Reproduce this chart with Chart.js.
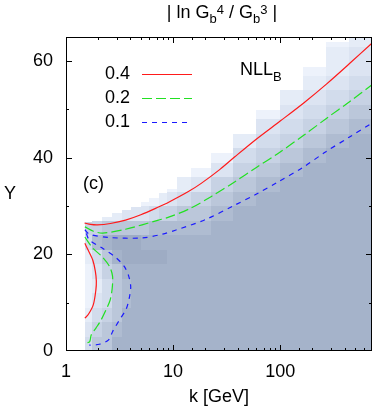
<!DOCTYPE html>
<html><head><meta charset="utf-8">
<script src="https://cdn.jsdelivr.net/npm/chart.js@4.4.0/dist/chart.umd.min.js"></script>
<style>html,body{margin:0;padding:0;background:#fff;}#wrap{width:382px;height:406px;position:relative;}</style>
</head><body><div id="wrap"><canvas id="c" width="382" height="406"></canvas></div>
<script>
// ---- data ----
const kEdges = [1.5,1.76,2.18,2.7,3.34,4.04,5.0,5.93,7.33,8.72,10.8,14.8,22.4,36.3,60,100,163,265,443,720];
const columnTops = [26.7,27.0,27.7,28.6,29.2,29.8,30.8,31.7,32.7,33.5,36,37.9,41,45,49.9,54,58.8,64,66];
const rowEdges = [0,3,6,9,12,15,18,21,24,27,30,33,36,39,42,45,48,51,54,57,60,63,66];
const shadeLevels = [
  [5,6,7,8,8,8,7,5,4],
  [3,4,5,6,7,6,5,2,4],
  [3,3,4,5,5,4,3,1,3,7],
  [1,2,3,3,3,3,1,0,3,7],
  [1,1,1,2,2,1,0,0,3,6],
  [1,1,1,1,1,1,0,0,3,6],
  [1,1,1,1,1,1,0,1,3,6,8],
  [1,1,1,1,1,1,0,1,2,5,8],
  [1,1,1,1,1,1,0,1,2,4,7],
  [1,1,1,1,1,1,1,1,2,4,6,8],
  [1,1,1,1,1,1,1,1,2,3,5,7],
  [1,1,1,1,1,1,1,1,2,3,4,6,8],
  [1,1,1,1,1,1,1,1,1,2,3,4,6,8],
  [1,1,1,1,1,1,1,1,1,1,2,3,4,5,7],
  [1,1,1,1,1,1,1,1,1,1,1,2,3,4,5,6,8],
  [1,1,1,1,1,1,1,1,1,1,1,1,2,3,4,5,6,7],
  [1,1,1,1,1,1,1,1,1,1,1,1,1,2,3,4,5,6,7,8],
  [1,1,1,1,1,1,1,1,1,1,1,1,1,1,2,3,4,5,6,7,7,8],
  [1,1,1,1,1,1,1,1,1,1,1,1,1,1,1,2,3,4,5,6,6,7]
];
const shadePalette = ['#9eacc4','#a5b3ca','#afbcd1','#bbc7da','#c7d2e4','#d2dcec','#dce4f2','#e5ecf7','#edf2fb','#f4f7fd'];

const contourLevels = ['0.4','0.2','0.1'];
const red04Upper = [[1.49,26.5],[1.7,26.2],[1.96,26.1],[2.6,26.4],[3.6,27.1],[5,28.2],[7.3,29.8],[9.1,30.8],[13.9,33.0],[18.3,34.7],[27.4,37.6],[37.7,40.2],[61,44],[100,47.6],[167,51.4],[272,55.3],[444,59.5],[710,63.6]];
const red04Lobe = [[1.5,22.3],[1.6,21],[1.78,18.8],[1.88,16.5],[1.92,14.5],[1.9,12.6],[1.8,9.6],[1.62,7.6],[1.5,6.8]];
const green02Upper = [[1.5,25.7],[1.8,24.8],[2.2,24.4],[3.6,25.2],[7.3,27.1],[9.1,27.7],[14.4,29.5],[22.8,32],[37.5,35],[59,37.9],[94,40.8],[167,44.7],[272,48.2],[444,51.6],[710,55]];
const green02Lobe = [[1.5,23.6],[1.78,21.3],[2.18,19.5],[2.55,17.5],[2.72,15.5],[2.7,13],[2.58,10.5],[2.36,8.5],[2.1,6.2],[1.91,4.8],[1.72,3.3],[1.66,1.9],[1.5,1.7]];
const blue01Upper = [[1.5,25.1],[1.65,24.2],[2.5,23.5],[5.1,23.4],[8,24.2],[10.5,25],[20,27.2],[37.7,30.2],[59,32.4],[94,34.9],[163,38],[265,41.2],[444,44.3],[710,47.1]];
const blue01Lobe = [[1.55,24.3],[1.65,23],[2.18,21.3],[2.94,19.3],[3.5,17.5],[3.85,15.5],[4.02,13.3],[3.9,11],[3.65,8.7],[3.15,6.4],[2.72,4],[2.5,2.3],[2.05,1.4],[1.65,1.2]];

const xTickLabels = [1,10,100];
const yTickLabels = [0,20,40,60];

// ---- styles ----
const FONT = '"Liberation Sans", Arial, Helvetica, sans-serif';
const RED = '#ff1a1a', GREEN = '#22e022', BLUE = '#1a1aff';
const styles = [
  {color: RED, dash: []},
  {color: GREEN, dash: [10,4]},
  {color: BLUE, dash: [5,5]}
];

function toPts(arr){ return arr.map(p => ({x: p[0], y: p[1]})); }
function ds(arr, st){
  return {data: toPts(arr), showLine: true, borderColor: st.color, borderWidth: 1.2,
    borderDash: st.dash, pointRadius: 0, tension: 0.3, fill: false};
}

const heatmapPlugin = {
  id: 'heatmap',
  beforeDatasetsDraw(chart){
    const {ctx, chartArea: a, scales: {x, y}} = chart;
    ctx.save();
    ctx.beginPath(); ctx.rect(a.left, a.top, a.right - a.left, a.bottom - a.top); ctx.clip();
    for (let j = 0; j < shadeLevels.length; j++){
      const x0 = Math.round(x.getPixelForValue(kEdges[j]));
      const x1 = Math.round(x.getPixelForValue(kEdges[j+1]));
      const col = shadeLevels[j];
      for (let i = 0; i < col.length; i++){
        const yb = rowEdges[i], yt = Math.min(rowEdges[i+1], columnTops[j]);
        if (yt <= yb) continue;
        const p0 = Math.round(y.getPixelForValue(yt));
        const p1 = Math.round(y.getPixelForValue(yb));
        ctx.fillStyle = shadePalette[col[i]];
        ctx.fillRect(x0, p0, x1 - x0, p1 - p0);
      }
    }
    ctx.restore();
  }
};

function drawRich(ctx, parts, cx, baseline){
  let w = 0;
  parts.forEach(p => { ctx.font = p.size + 'px ' + FONT; p.w = ctx.measureText(p.t).width; w += p.w; });
  let xx = cx - w/2;
  ctx.textAlign = 'left'; ctx.textBaseline = 'alphabetic';
  parts.forEach(p => { ctx.font = p.size + 'px ' + FONT; ctx.fillText(p.t, xx, baseline + (p.dy||0)); xx += p.w; });
}

const framePlugin = {
  id: 'frame',
  afterDatasetsDraw(chart){
    const {ctx, chartArea: a, scales: {x, y}} = chart;
    ctx.save();
    ctx.strokeStyle = '#000'; ctx.lineWidth = 1;
    ctx.beginPath();
    y.ticks.forEach(t => {
      const v = t.value; if (v <= y.min || v >= y.max) return;
      const p = Math.round(y.getPixelForValue(v)) + 0.5;
      const len = (v % 20 === 0) ? 6 : 3;
      ctx.moveTo(a.left, p); ctx.lineTo(a.left + len, p);
      ctx.moveTo(a.right, p); ctx.lineTo(a.right - len, p);
    });
    x.ticks.forEach(t => {
      const v = t.value; if (v <= x.min || v >= x.max) return;
      const lg = Math.log10(v);
      const major = Math.abs(lg - Math.round(lg)) < 1e-9;
      const p = Math.round(x.getPixelForValue(v)) + 0.5;
      const len = major ? 6 : 3;
      ctx.moveTo(p, a.bottom); ctx.lineTo(p, a.bottom - len);
      ctx.moveTo(p, a.top); ctx.lineTo(p, a.top + len);
    });
    ctx.stroke();
    ctx.strokeRect(a.left + 0.5, a.top + 0.5, a.right - a.left - 1, a.bottom - a.top - 1);

    // legend
    ctx.fillStyle = '#000';
    ctx.font = '18px ' + FONT; ctx.textAlign = 'left'; ctx.textBaseline = 'middle';
    const legendY = [74, 98, 122], lineEnd = [192, 192, 187];
    contourLevels.forEach((lab, i) => {
      ctx.fillText(lab, 105, legendY[i]);
      ctx.beginPath();
      ctx.strokeStyle = styles[i].color; ctx.lineWidth = 1.2; ctx.setLineDash(styles[i].dash);
      ctx.moveTo(142, legendY[i] + 0.5); ctx.lineTo(lineEnd[i], legendY[i] + 0.5); ctx.stroke();
    });
    ctx.setLineDash([]);
    ctx.fillStyle = '#000';
    ctx.textBaseline = 'alphabetic';
    ctx.font = '18px ' + FONT; ctx.fillText('NLL', 240, 75);
    const wN = ctx.measureText('NLL').width;
    ctx.font = '13px ' + FONT; ctx.fillText('B', 240 + wN, 81);
    ctx.font = '18px ' + FONT; ctx.textBaseline = 'middle'; ctx.fillText('(c)', 83, 184);
    ctx.textAlign = 'center'; ctx.fillText('Y', 10, 194);
    drawRich(ctx, [
      {t: '| ln G', size: 18}, {t: 'b', size: 13, dy: 5}, {t: '4', size: 13, dy: -4},
      {t: ' / G', size: 18}, {t: 'b', size: 13, dy: 5}, {t: '3', size: 13, dy: -4},
      {t: ' |', size: 18}
    ], 222, 18);
    ctx.restore();
  }
};

new Chart(document.getElementById('c'), {
  type: 'scatter',
  data: {datasets: [
    ds(red04Upper, styles[0]), ds(red04Lobe, styles[0]),
    ds(green02Upper, styles[1]), ds(green02Lobe, styles[1]),
    ds(blue01Upper, styles[2]), ds(blue01Lobe, styles[2])
  ]},
  options: {
    responsive: false, animation: false, devicePixelRatio: 1,
    layout: {padding: {top: 37, right: 6, left: 0, bottom: 0}},
    plugins: {legend: {display: false}, tooltip: {enabled: false}},
    scales: {
      x: {
        type: 'logarithmic', min: 1, max: 720, position: 'bottom',
        grid: {display: false, drawTicks: false}, border: {display: false},
        ticks: {autoSkip: false, maxRotation: 0, color: '#000', padding: 10,
          font: {family: FONT, size: 18},
          callback: (v) => xTickLabels.includes(Math.round(v * 1000) / 1000) ? String(v) : ''},
        title: {display: true, text: 'k [GeV]', color: '#000', font: {family: FONT, size: 18, lineHeight: 1}, padding: {top: 0, bottom: 0}},
        afterFit: (s) => { s.height = 55; }
      },
      y: {
        type: 'linear', min: 0, max: 65,
        grid: {display: false, drawTicks: false}, border: {display: false},
        ticks: {stepSize: 5, color: '#000', padding: 13, font: {family: FONT, size: 18},
          callback: (v) => yTickLabels.includes(v) ? String(v) : ''},
        afterFit: (s) => { s.width = 66; }
      }
    }
  },
  plugins: [heatmapPlugin, framePlugin]
});
</script></body></html>
